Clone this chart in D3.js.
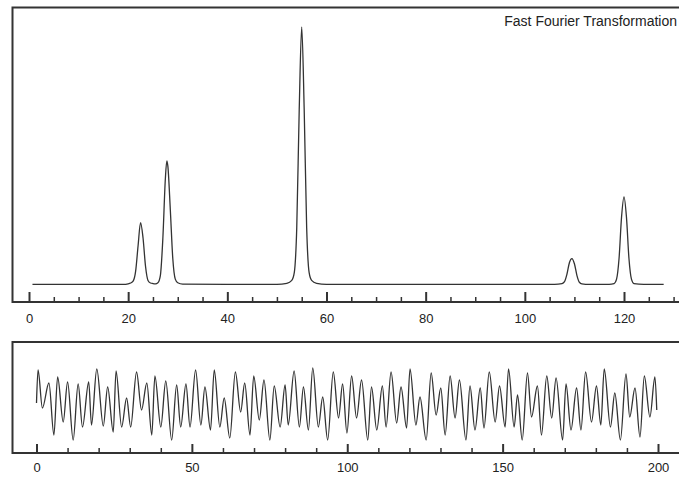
<!DOCTYPE html>
<html>
<head>
<meta charset="utf-8">
<script src="https://cdn.jsdelivr.net/npm/d3@7"></script>
<style>
  body { margin: 0; background: #fff; }
  text { font-family: "Liberation Sans", Arial, sans-serif; fill: #222; }
</style>
</head>
<body>
<svg class="chart"></svg>
<script>
// spectrum (frequency bin -> amplitude, peak at 55 = 100)
var fftFreq = [0.7, 10, 19, 20, 20.5, 21, 21.5, 22, 22.5, 23, 23.5, 24, 24.5, 25, 25.5, 26, 26.5, 27, 27.5, 27.8, 28, 28.5, 29, 29.5, 30, 31,
  40, 50, 52, 53, 53.5, 54, 54.5, 55, 55.5, 56, 56.5, 57, 58, 60, 80, 100, 106, 107.5, 108, 108.5, 109, 109.5, 110, 110.5, 111, 111.5, 113,
  117, 118, 118.5, 119, 119.5, 120, 120.5, 121, 121.5, 122, 124, 128];
var fftAmp = [0, 0, 0, 0.2, 0.5, 1.2, 5, 15, 24, 18, 7, 1.5, 0.5, 0.3, 0.2, 0.6, 3.5, 18, 41, 48, 46, 29, 10, 2, 0.6, 0.1,
  0, 0, 0.4, 1.5, 4.5, 22, 68, 100, 68, 22, 4.5, 1.5, 0.4, 0, 0, 0, 0, 0.3, 1, 4, 8.5, 10, 8, 3.5, 0.8, 0.2, 0,
  0, 0.3, 2, 10, 26, 34, 26, 10, 2, 0.3, 0, 0];

// time signal, turning points
var sigTime = [0, 0.5, 1.9, 4.0, 5.6, 6.8, 8.6, 10.0, 11.8, 13.4, 14.8, 16.8, 17.7, 19.4, 21.5, 22.9, 24.7, 25.6, 27.4, 29.0,
  30.3, 32.2, 33.8, 35.5, 37.1, 38.1, 40.0, 41.6, 43.5, 45.1, 46.4, 48.1, 49.4, 51.2, 52.9, 54.2, 56.0, 57.2, 59.0, 60.4,
  62.2, 64.0, 65.7, 67.0, 68.7, 69.9, 71.7, 73.2, 75.1, 76.5, 78.4, 80.0, 81.0, 82.9, 84.6, 85.9, 87.5, 88.9, 90.7, 92.1,
  93.7, 95.5, 97.2, 98.5, 99.9, 101.4, 103.0, 104.6, 106.6, 107.8, 109.5, 111.3, 112.5, 114.1, 115.9, 117.3, 119.1, 120.2,
  122.1, 123.4, 125.4, 127.0, 128.6, 130.1, 131.5, 133.1, 134.7, 136.1, 138.2, 139.5, 141.1, 142.8, 144.0, 145.7, 147.6,
  149.0, 150.8, 151.9, 153.7, 154.8, 156.3, 158.0, 159.3, 161.2, 162.5, 164.2, 165.8, 167.2, 169.3, 170.4, 172.0, 173.8,
  175.2, 176.7, 178.6, 180.2, 181.6, 182.7, 184.7, 186.1, 187.9, 189.7, 190.9, 192.6, 194.2, 195.6, 197.4, 199.0, 199.6];
var sigValue = [0.2, 3.5, -0.3, 2.2, -3.0, 2.8, -1.7, 2.3, -3.5, 2.1, -2.2, 2.3, -2.0, 3.6, -2.1, 1.8, -2.7, 3.4, -2.2, 0.7,
  -2.2, 3.3, -0.5, 2.2, -3.0, 2.9, -2.2, 2.4, -3.5, 2.0, -2.2, 2.1, -2.2, 3.5, -2.0, 1.8, -2.5, 3.5, -2.2, 0.7,
  -3.3, 3.3, -0.7, 2.2, -3.0, 2.9, -1.5, 2.5, -3.5, 1.9, -2.2, 2.0, -2.0, 3.4, -2.2, 1.8, -2.5, 3.7, -2.2, 0.8,
  -3.5, 3.3, -1.3, 2.1, -2.8, 2.9, -1.3, 2.5, -3.5, 1.8, -2.5, 1.9, -2.2, 3.3, -1.8, 1.8, -2.3, 3.6,
  -2.0, 0.8, -3.5, 3.2, -1.0, 1.7, -3.0, 2.9, -1.3, 2.5, -3.5, 1.9, -2.5, 1.7, -2.3, 3.3, -1.7,
  1.9, -2.2, 3.6, -2.2, 1.0, -3.5, 3.2, -1.2, 1.9, -3.0, 2.9, -1.3, 2.7, -3.5, 2.1, -2.5, 1.7,
  -2.5, 3.3, -1.7, 1.9, -2.0, 3.6, -2.2, 1.2, -3.5, 3.1, -1.2, 1.7, -3.2, 2.9, -1.2, 2.8, -0.5];

var fftTicks = [0, 20, 40, 60, 80, 100, 120];
var sigTicks = [0, 50, 100, 150, 200];

var width = 679, height = 478;
var ink = "#333";

var chart = d3.select(".chart")
    .attr("width", width)
    .attr("height", height);

// ---- top panel: spectrum
var x1 = d3.scaleLinear().domain([0, 120]).range([29, 624]);
var y1 = d3.scaleLinear().domain([0, 100]).range([284.3, 27]);

var topPanel = chart.append("g");

topPanel.append("rect")
    .attr("x", 12.5).attr("y", 7.5)
    .attr("width", 700).attr("height", 294.5)
    .attr("fill", "none").attr("stroke", ink).attr("stroke-width", 2);

var fftLine = d3.line()
    .x(function(d, i) { return x1(fftFreq[i]); })
    .y(function(d) { return y1(d); })
    .curve(d3.curveMonotoneX);

topPanel.append("path")
    .datum(fftAmp)
    .attr("d", fftLine)
    .attr("fill", "none").attr("stroke", ink).attr("stroke-width", 1.3);

// minor ticks every 5, major every 20, pointing up from the axis line
topPanel.append("g")
    .attr("transform", "translate(0,302)")
    .call(d3.axisBottom(x1)
        .tickValues(d3.range(5, 135, 5).filter(v => v % 20 != 0))
        .tickSize(-5).tickFormat(""))
    .call(g => g.select(".domain").remove())
    .call(g => g.selectAll("line").attr("stroke", ink).attr("stroke-width", 1.5));

topPanel.append("g")
    .attr("transform", "translate(0,302)")
    .call(d3.axisBottom(x1).tickValues(fftTicks).tickSize(-10).tickPadding(12))
    .call(g => g.select(".domain").remove())
    .call(g => g.selectAll("line").attr("stroke", ink).attr("stroke-width", 2))
    .call(g => g.selectAll("text").attr("font-size", 13).style("font-family", "'Liberation Sans', Arial, sans-serif"));

topPanel.append("line")
    .attr("x1", 12).attr("x2", width).attr("y1", 302).attr("y2", 302)
    .attr("stroke", ink).attr("stroke-width", 2);

topPanel.append("text")
    .attr("x", 677).attr("y", 26)
    .attr("text-anchor", "end")
    .attr("font-size", 14)
    .text("Fast Fourier Transformation");

// ---- bottom panel: signal
var x2 = d3.scaleLinear().domain([0, 200]).range([36.5, 658]);
var y2 = d3.scaleLinear().domain([-4.8, 6.2]).range([453, 343]);

var bottomPanel = chart.append("g");

bottomPanel.append("rect")
    .attr("x", 12.5).attr("y", 342)
    .attr("width", 700).attr("height", 111)
    .attr("fill", "none").attr("stroke", ink).attr("stroke-width", 2);

var sigLine = d3.line()
    .x(function(d, i) { return x2(sigTime[i]); })
    .y(function(d) { return y2(d); })
    .curve(d3.curveMonotoneX);

bottomPanel.append("path")
    .datum(sigValue)
    .attr("d", sigLine)
    .attr("fill", "none").attr("stroke", ink).attr("stroke-width", 1.3);

bottomPanel.append("g")
    .attr("transform", "translate(0,453)")
    .call(d3.axisBottom(x2)
        .tickValues(d3.range(10, 210, 10).filter(v => v % 50 != 0))
        .tickSize(-5).tickFormat(""))
    .call(g => g.select(".domain").remove())
    .call(g => g.selectAll("line").attr("stroke", ink).attr("stroke-width", 1.5));

bottomPanel.append("g")
    .attr("transform", "translate(0,453)")
    .call(d3.axisBottom(x2).tickValues(sigTicks).tickSize(-9).tickPadding(10))
    .call(g => g.select(".domain").remove())
    .call(g => g.selectAll("line").attr("stroke", ink).attr("stroke-width", 2))
    .call(g => g.selectAll("text").attr("font-size", 13).style("font-family", "'Liberation Sans', Arial, sans-serif"));

bottomPanel.append("line")
    .attr("x1", 12).attr("x2", width).attr("y1", 453).attr("y2", 453)
    .attr("stroke", ink).attr("stroke-width", 2);
</script>
</body>
</html>
